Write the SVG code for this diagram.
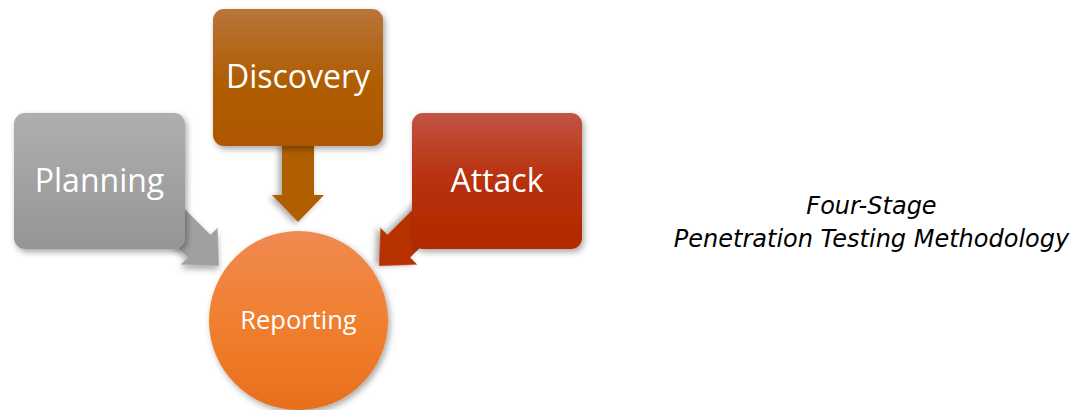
<svg xmlns="http://www.w3.org/2000/svg" width="1076" height="410" viewBox="0 0 1076 410">
  <defs>
    <linearGradient id="gPlan" x1="0" y1="0" x2="0" y2="1">
      <stop offset="0" stop-color="#afafaf"/>
      <stop offset="1" stop-color="#959595"/>
    </linearGradient>
    <linearGradient id="gDisc" x1="0" y1="0" x2="0" y2="1">
      <stop offset="0" stop-color="#b8753a"/>
      <stop offset="0.5" stop-color="#b05e06"/>
      <stop offset="1" stop-color="#ad5800"/>
    </linearGradient>
    <linearGradient id="gAtt" x1="0" y1="0" x2="0" y2="1">
      <stop offset="0" stop-color="#c05444"/>
      <stop offset="0.5" stop-color="#b8300c"/>
      <stop offset="1" stop-color="#b32a00"/>
    </linearGradient>
    <linearGradient id="gRep" x1="0" y1="0" x2="0" y2="1">
      <stop offset="0" stop-color="#f08a52"/>
      <stop offset="0.5" stop-color="#f07f2f"/>
      <stop offset="1" stop-color="#e86f1c"/>
    </linearGradient>
    <filter id="sh" x="-20%" y="-20%" width="140%" height="140%">
      <feDropShadow dx="2" dy="3" stdDeviation="3" flood-color="#000" flood-opacity="0.35"/>
    </filter>
  </defs>
  <style>
    .lbl { font-family: "Open Sans", "Noto Sans", "DejaVu Sans", sans-serif; fill: #ffffff; text-anchor: middle; }
    .big { font-size: 32px; }
    .small { font-size: 25.5px; }
    .cap { font-family: "DejaVu Sans", Verdana, sans-serif; font-style: italic; font-size: 24px; fill: #000000; text-anchor: middle; }
  </style>

  <g id="connectors">
    <polygon transform="translate(219,266) rotate(45)" fill="#a0a0a0" filter="url(#sh)"
      points="0,0 -28,26 -28,16 -75,16 -75,-16 -28,-16 -28,-26"/>
    <polygon transform="translate(298,222) rotate(90)" fill="#b05e00" filter="url(#sh)"
      points="0,0 -27,26 -27,16 -80,16 -80,-16 -27,-16 -27,-26"/>
    <polygon transform="translate(379,266) rotate(135)" fill="#b83000" filter="url(#sh)"
      points="0,0 -28,26 -28,16 -75,16 -75,-16 -28,-16 -28,-26"/>
  </g>

  <g id="planning">
    <rect x="14" y="113" width="171" height="136" rx="11" fill="url(#gPlan)" filter="url(#sh)"/>
    <text class="lbl big" x="99.5" y="192">Planning</text>
  </g>

  <g id="discovery">
    <rect x="213" y="9" width="170" height="137" rx="11" fill="url(#gDisc)" filter="url(#sh)"/>
    <text class="lbl big" x="298" y="88">Discovery</text>
  </g>

  <g id="attack">
    <rect x="412" y="113" width="170" height="136" rx="11" fill="url(#gAtt)" filter="url(#sh)"/>
    <text class="lbl big" x="497" y="192">Attack</text>
  </g>

  <g id="reporting">
    <circle cx="298.5" cy="320.5" r="89.5" fill="url(#gRep)" filter="url(#sh)"/>
    <text class="lbl small" x="298.5" y="329">Reporting</text>
  </g>

  <g id="caption">
    <text class="cap" x="871.5" y="214">Four-Stage</text>
    <text class="cap" x="871.5" y="247">Penetration Testing Methodology</text>
  </g>
</svg>
